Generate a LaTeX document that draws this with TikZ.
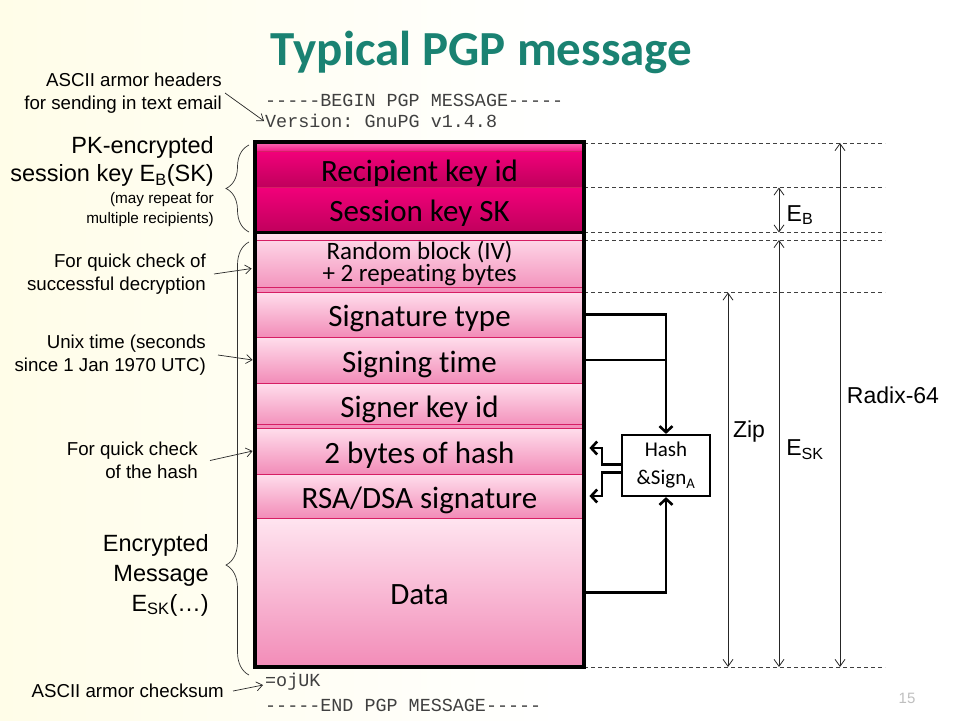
\documentclass[tikz,border=0pt]{standalone}
\usepackage{fontspec}
\setmainfont{Liberation Sans}
\setmonofont{Liberation Mono}
\newfontfamily\blockfont[Ligatures=NoCommon]{Carlito}
\usetikzlibrary{arrows.meta,decorations.pathreplacing}
\definecolor{titleteal}{RGB}{26,130,114}
\definecolor{hotpink}{RGB}{242,0,122}
\definecolor{deeppink}{RGB}{192,0,92}
\definecolor{palepink}{RGB}{255,222,236}
\definecolor{midpink}{RGB}{242,140,184}
\definecolor{seppink}{RGB}{214,30,100}
\definecolor{cream}{RGB}{255,253,232}
\newcommand\dashrun{-{}-{}-{}-{}-}

\begin{document}
\begin{tikzpicture}[x=1pt,y=-1pt,
    band/.style={rectangle, minimum width=329pt, inner sep=0pt, draw=seppink, line width=0.8pt,
        top color=palepink, bottom color=midpink, font=\blockfont\fontsize{31}{34}\selectfont},
    field/.style={band, text height=30pt, text depth=6pt},
    darkfield/.style={field, top color=hotpink, bottom color=deeppink},
    note/.style={anchor=east, align=right, inner sep=0pt, font=\fontsize{18.7}{23}\selectfont},
    bignote/.style={note, font=\fontsize{23.5}{28}\selectfont},
    mono/.style={anchor=west, inner sep=0pt, text=black!75, font=\ttfamily\fontsize{18.4}{20}\selectfont},
    hashbox/.style={rectangle, draw, line width=2.2pt, fill=white, minimum width=88pt, minimum height=61pt,
        align=center, inner sep=0pt, font=\blockfont\fontsize{21}{28}\selectfont},
    pointer/.style={black!85, line width=0.7pt, -{Straight Barb[length=6pt,width=9pt]}},
    flow/.style={line width=2.6pt, -{Straight Barb[length=6pt,width=13pt]}},
    link/.style={line width=2.6pt},
    guide/.style={black!75, line width=0.7pt, dash pattern=on 4pt off 3pt},
    span/.style={black!85, line width=0.8pt, {Straight Barb[length=7pt,width=10pt]}-{Straight Barb[length=7pt,width=10pt]}},
    bracket/.style={black!80, line width=0.7pt, decorate, decoration={brace, amplitude=23pt}},
    dimlabel/.style={inner sep=0pt, font=\fontsize{23}{23}\selectfont}
]
            \useasboundingbox (0,0) rectangle (960,720);
            \fill[white] (0,0) rectangle (960,720);
            \shade[left color=cream, right color=white] (0,0) rectangle (560,720);

            % Title
            \node[anchor=base, text=titleteal, font=\blockfont\bfseries\fontsize{49}{50}\selectfont] (title) at (481.5,65) {Typical PGP message};

            % Guide lines
            \draw[guide] (584,143) -- (885,143);
            \draw[guide] (584,187.5) -- (885,187.5);
            \draw[guide] (584,232.5) -- (885,232.5);
            \draw[guide] (584,240) -- (885,240);
            \draw[guide] (584,292.5) -- (885,292.5);
            \draw[guide] (584,667) -- (885,667);

            % Packet fields
            \node[band, minimum height=8pt, top color=hotpink!60, bottom color=hotpink!90] (strip) at (419.5,147) {};
            \node[darkfield, minimum height=36pt] (rkey) at (419.5,169) {Recipient key id};
            \node[darkfield, minimum height=45.5pt] (skey) at (419.5,209.75) {Session key SK};
            \node[band, minimum height=59.5pt, align=center, font=\blockfont\fontsize{25}{22.5}\selectfont] (iv) at (419.5,263.5) {Random block (IV)\\+ 2 repeating bytes};
            \node[field, minimum height=45pt] (sigtype) at (419.5,314.5) {Signature type};
            \node[field, minimum height=46pt] (sigtime) at (419.5,360) {Signing time};
            \node[field, minimum height=45pt] (signer) at (419.5,405.5) {Signer key id};
            \node[field, minimum height=46pt] (hash2) at (419.5,451) {2 bytes of hash};
            \node[field, minimum height=44pt] (rsa) at (419.5,496) {RSA/DSA signature};
            \node[field, minimum height=149pt, top color=palepink!80!white] (data) at (419.5,592.5) {Data};

            \draw[seppink, line width=0.8pt] (255,240) -- (584,240);
            \draw[seppink, line width=0.8pt] (255,287) -- (584,287);
            \draw[seppink, line width=0.8pt] (255,424) -- (584,424);
            \draw[line width=3.4pt] (255,142) rectangle (584,667);
            \draw[line width=3pt] (255,232.5) -- (584,232.5);

            % ASCII armor lines
            \node[mono] (begin) at (265,100) {\dashrun BEGIN PGP MESSAGE\dashrun};
            \node[mono] (ver) at (265,121) {Version: GnuPG v1.4.8};
            \node[mono] (cks) at (265,682) {=ojUK};
            \node[mono] (end) at (265,705) {\dashrun END PGP MESSAGE\dashrun};

            % Notes on the left
            \node[note] (armor) at (222,93) {ASCII armor headers\\for sending in text email};
            \node[bignote] (pk) at (214,161.5) {PK-encrypted\\session key E\textsubscript{B}(SK)};
            \node[note, font=\fontsize{15.3}{20}\selectfont] (rep) at (214,210) {(may repeat for\\multiple recipients)};
            \node[note] (chk) at (206,274) {For quick check of\\successful decryption};
            \node[note] (unix) at (206,355) {Unix time (seconds\\since 1 Jan 1970 UTC)};
            \node[note] (hnote) at (198,460.5) {For quick check\\of the hash};
            \node[bignote, font=\fontsize{23.5}{30}\selectfont] (enc) at (209,575) {Encrypted\\Message\\E\textsubscript{SK}(…)};
            \node[note] (csum) at (224,691) {ASCII armor checksum};

            \draw[pointer] ([xshift=3pt]armor.east) -- ([xshift=-1pt]ver.west);
            \draw[pointer] ([xshift=8pt]chk.east) -- ([xshift=-3pt,yshift=-5pt]iv.west);
            \draw[pointer] ([xshift=12pt]unix.east) -- ([xshift=-2pt]sigtime.west);
            \draw[pointer] ([xshift=12pt]hnote.east) -- ([xshift=-2pt]hash2.west);
            \draw[pointer] ([xshift=9pt]csum.east) -- ([xshift=-2pt,yshift=-3pt]cks.west);

            \draw[bracket] (249,232) -- (249,145);
            \draw[bracket, decoration={aspect=0.254}] (249,675) -- (249,242);

            % Hash and sign
            \node[hashbox] (hs) at (666,465.5) {Hash\\\&Sign\textsubscript{A}};
            \draw[flow] (sigtype.east) -| (hs.north);
            \draw[link] (sigtime.east) -- (sigtime.east -| hs.north);
            \draw[flow] (data.east) -| (hs.south);
            \draw[flow] ([yshift=1pt]hs.west) -- ++(-19,0) |- ([xshift=5pt,yshift=3pt]hash2.east);
            \draw[flow] ([yshift=-7pt]hs.west) -- ++(-19,0) |- ([xshift=5pt]rsa.east);

            % Spans
            \coordinate (zipT) at (728,292.5);
            \coordinate (zipB) at (728,667);
            \coordinate (eskT) at (779,240);
            \coordinate (eskB) at (779,667);
            \coordinate (ebT) at (779,187.5);
            \coordinate (ebB) at (779,232.5);
            \coordinate (radT) at (840,143);
            \coordinate (radB) at (840,667);
            \draw[span] (zipT) -- (zipB);
            \draw[span] (eskT) -- (eskB);
            \draw[span] (ebT) -- (ebB);
            \draw[span] (radT) -- (radB);

            \node[dimlabel] (zip) at (749,432) {Zip};
            \node[dimlabel] (esk) at (805,450) {E\textsubscript{SK}};
            \node[dimlabel] (eb) at (800,215) {E\textsubscript{B}};
            \node[dimlabel] (radix) at (893,395) {Radix-64};

            \node[text=black!25, font=\fontsize{15}{15}\selectfont] (pg) at (907,698) {15};
\end{tikzpicture}
\end{document}
